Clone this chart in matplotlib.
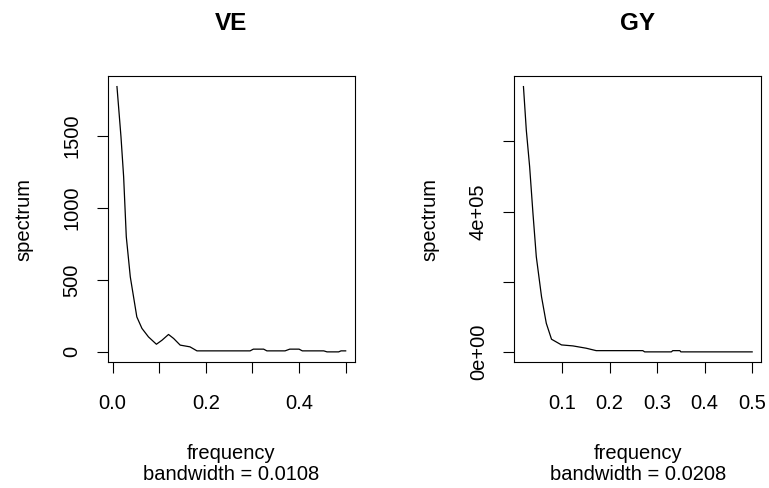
import numpy as np
import matplotlib.pyplot as plt

plt.rcParams['font.family'] = ['Liberation Sans', 'DejaVu Sans']

# VE spectrum
ve_freq = [0.0094, 0.018, 0.0237, 0.0294, 0.038, 0.045, 0.052, 0.063, 0.077,
           0.094, 0.106, 0.12, 0.131, 0.145, 0.166, 0.181, 0.295, 0.302, 0.324,
           0.331, 0.37, 0.38, 0.40, 0.407, 0.453, 0.46, 0.485, 0.49, 0.50]
ve_spec = [1843, 1495, 1217, 800, 521, 382, 243, 163, 104,
           53, 81, 121, 93, 47, 35, 7, 7, 19, 19,
           7, 7, 19, 19, 7, 7, 0, 0, 7, 7]

# GY spectrum
gy_freq = [0.019, 0.025, 0.032, 0.039, 0.046, 0.057, 0.067, 0.078, 0.099,
           0.123, 0.151, 0.172, 0.27, 0.274, 0.33, 0.333, 0.348, 0.35, 0.50]
gy_spec = [7.56e5, 6.32e5, 5.28e5, 3.95e5, 2.72e5, 1.58e5, 8.25e4, 3.7e4, 2.08e4,
           1.8e4, 1.14e4, 4.5e3, 4.5e3, 1e3, 1e3, 4.5e3, 4.5e3, 1e3, 1e3]

fig = plt.figure(figsize=(7.69, 4.88), dpi=100)
ax1 = fig.add_axes([0.1402, 0.2572, 0.3212, 0.5871])
ax2 = fig.add_axes([0.6688, 0.2572, 0.3212, 0.5871])

fs = 14.5

def style(ax, title, bw):
    ax.margins(x=0.04, y=0.04)
    for s in ax.spines.values():
        s.set_linewidth(0.8)
    ax.tick_params(direction='out', length=8, width=0.8, labelsize=fs)
    ax.tick_params(axis='x', pad=15)
    ax.tick_params(axis='y', labelrotation=90, pad=11)
    for lab in ax.get_yticklabels():
        lab.set_va('center')
    ax.set_title(title, fontsize=17.5, fontweight='bold', pad=33)
    ax.set_xlabel('frequency\nbandwidth = ' + bw, fontsize=fs, labelpad=22, linespacing=1.15)
    ax.set_ylabel('spectrum', fontsize=fs, labelpad=21)

ax1.plot(ve_freq, ve_spec, color='black', lw=0.9)
ax1.set_xticks([0.0, 0.1, 0.2, 0.3, 0.4, 0.5])
ax1.set_xticklabels(['0.0', '', '0.2', '', '0.4', ''])
ax1.set_yticks([0, 500, 1000, 1500])
ax1.set_yticklabels(['0', '500', '1000', '1500'])
style(ax1, 'VE', '0.0108')

ax2.plot(gy_freq, gy_spec, color='black', lw=0.9)
ax2.set_xticks([0.1, 0.2, 0.3, 0.4, 0.5])
ax2.set_xticklabels(['0.1', '0.2', '0.3', '0.4', '0.5'])
ax2.set_yticks([0, 2e5, 4e5, 6e5])
ax2.set_yticklabels(['0e+00', '', '4e+05', ''])
style(ax2, 'GY', '0.0208')

fig.savefig('out.png', dpi=100)
